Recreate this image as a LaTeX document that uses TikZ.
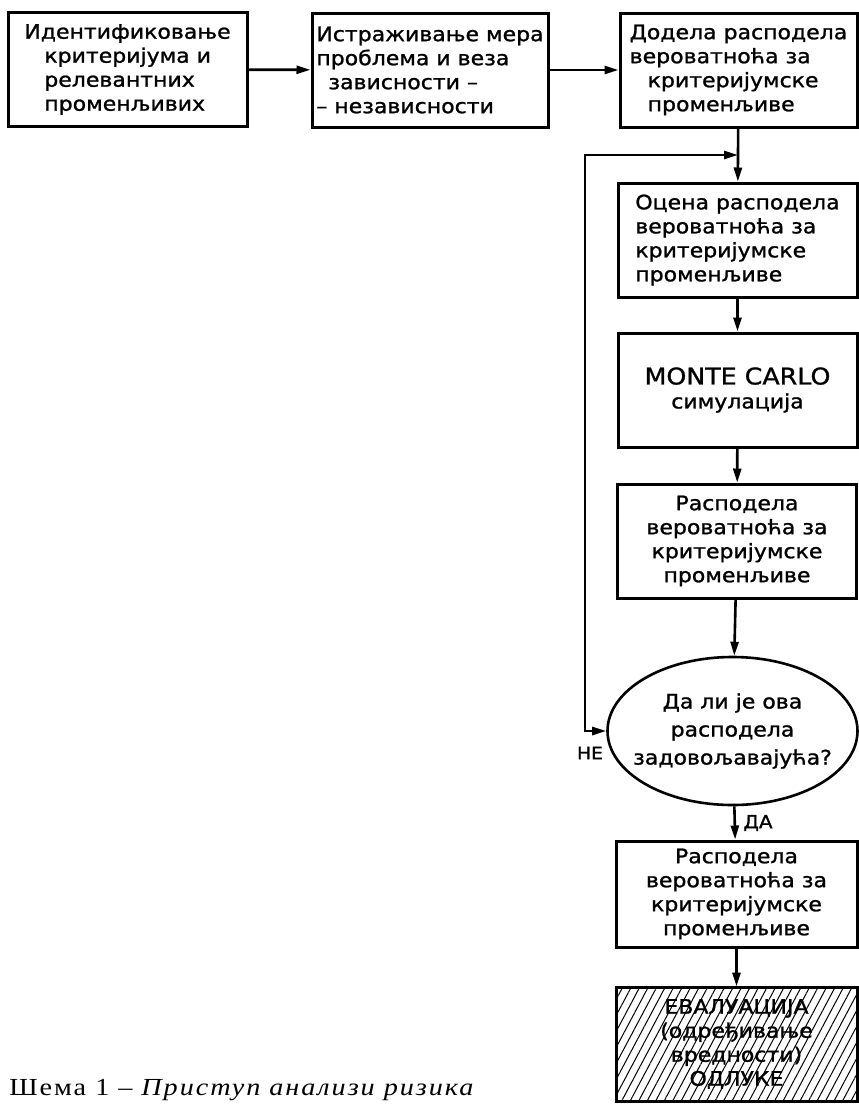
\documentclass[tikz,border=0pt]{standalone}
\usepackage{fontspec}
\setmainfont{Liberation Serif}
\newfontfamily\handfont[FakeStretch=1.1,FakeBold=1.2]{DejaVu Sans}
\newfontfamily\captionfont[FakeStretch=1.15,LetterSpace=8]{Liberation Serif}
\usetikzlibrary{arrows.meta,shapes.geometric,patterns.meta}
\begin{document}
\begin{tikzpicture}[x=1pt,y=-1pt,line width=2.6pt,
        font=\handfont\fontsize{20}{24}\selectfont,
        block/.style={draw,line width=3pt,rectangle,minimum width=239pt,minimum height=114pt,inner sep=2pt},
        link/.style={-{Triangle[length=14pt,width=8pt]}}]

            \useasboundingbox (0,0) rectangle (859,1104);

            % top row
            \node[block,align=left] (ident) at (127.5,69.5) {Идентификовање\\
                \hspace*{20pt}критеријума и\\ \hspace*{20pt}релевантних\\ \hspace*{20pt}променљивих};
            \node[block,minimum width=236pt,align=left] (explore) at (430,70) {Истраживање мера\\
                проблема и веза\\ \hspace*{12pt}зависности –\\ – независности};
            \node[block,minimum width=237pt,align=left] (assign) at (738.5,70) {Додела расподела\\
                вероватноћа за\\ \hspace*{18pt}критеријумске\\ \hspace*{18pt}променљиве};

            % right column
            \node[block,align=left] (estimate) at (737.5,240) {Оцена расподела\\
                вероватноћа за\\ критеријумске\\ променљиве};
            \node[block,align=center] (monte) at (737.5,390) {{\fontsize{23}{24}\selectfont MONTE CARLO}\\
                {\fontsize{20}{24}\selectfont симулација}};
            \node[block,align=center] (distA) at (737,541) {Расподела\\
                вероватноћа за\\ критеријумске\\ променљиве};
            \node[draw,ellipse,minimum width=250pt,minimum height=148pt,inner xsep=-20pt,inner ysep=0pt,
                align=center,font=\handfont\fontsize{20}{28}\selectfont] (decide) at (732.5,731)
                {Да ли је ова\\ расподела\\ задовољавајућа?};
            \node[block,minimum width=241pt,minimum height=106pt,align=center] (distB) at (736.5,894) {Расподела\\
                вероватноћа за\\ критеријумске\\ променљиве};
            \node[block,minimum width=241pt,minimum height=114pt,align=center,
                pattern={Lines[angle=62,distance=7.5pt,line width=1pt]}] (evaluate) at (736.5,1044)
                {ЕВАЛУАЦИЈА\\ (одређивање\\ вредности)\\ ОДЛУКЕ};

            \draw[link] (ident) -- (explore);
            \draw[link] (explore) -- (assign);
            \draw[link] (assign) -- (estimate);
            \draw[link] (estimate) -- (monte);
            \draw[link] (monte) -- (distA);
            \draw[link] (distA) -- (decide);
            \draw[link] (decide) -- (distB);
            \draw[link] (distB) -- (evaluate);

            % loop back
            \coordinate (loopdn) at (585,731);
            \coordinate (loopup) at (585,155);
            \coordinate (merge) at (738,155);
            \draw[{Triangle[length=14pt,width=8pt]}-{Triangle[length=14pt,width=8pt]}]
                (decide.west) -- (loopdn) -- (loopup) -- (merge);

            \node[font=\handfont\fontsize{17}{18}\selectfont] (no) at (590,753) {НЕ};
            \node[font=\handfont\fontsize{18}{18}\selectfont] (yes) at (758,823) {ДА};

            % caption
            \node[anchor=base west,inner sep=0pt,font=\captionfont\fontsize{24.5}{28}\selectfont] (caption) at (8,1095)
                {Шема 1 – \textit{Приступ анализи ризика}};

        \end{tikzpicture}
\end{document}
